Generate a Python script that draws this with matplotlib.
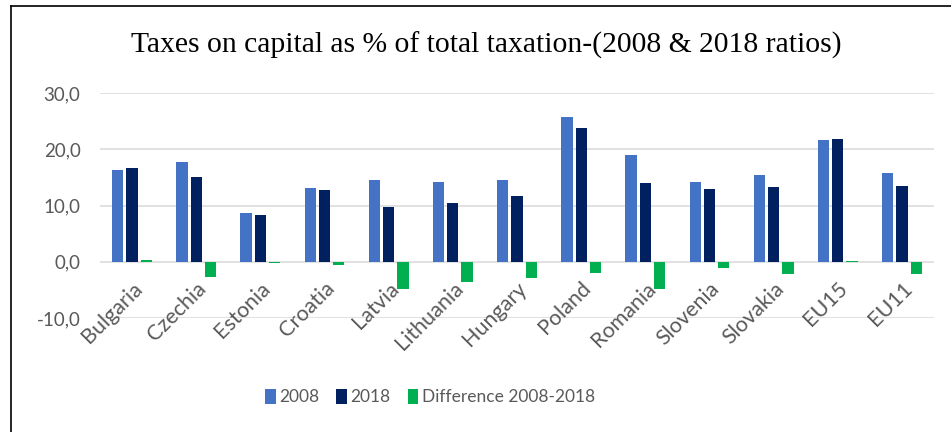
import numpy as np
import matplotlib
matplotlib.use("Agg")
from matplotlib import pyplot as plt
from matplotlib.lines import Line2D

countries = ["Bulgaria", "Czechia", "Estonia", "Croatia", "Latvia", "Lithuania", "Hungary",
             "Poland", "Romania", "Slovenia", "Slovakia", "EU15", "EU11"]
y2008 = [16.3, 17.8, 8.6, 13.2, 14.5, 14.2, 14.6, 25.8, 18.9, 14.1, 15.4, 21.6, 15.7]
y2018 = [16.7, 15.1, 8.4, 12.7, 9.7, 10.5, 11.7, 23.8, 14.0, 13.0, 13.3, 21.9, 13.5]
diff = [0.3, -2.7, -0.2, -0.5, -4.8, -3.6, -2.9, -2.0, -4.9, -1.1, -2.1, 0.2, -2.2]
yticks = [-10, 0, 10, 20, 30]

c2008 = "#4472C4"
c2018 = "#002060"
cdiff = "#00B050"
txt = "#595959"

plt.rcParams['font.family'] = ['Lato', 'DejaVu Sans']

fig = plt.figure(figsize=(9.51, 4.32), dpi=100)
ax = fig.add_axes([100 / 951, 1 - 318 / 432, 834 / 951, 225 / 432])

x = np.arange(len(countries))
w = 0.176
step = 0.222
ax.bar(x - step, y2008, w, color=c2008, label="2008", zorder=3)
ax.bar(x, y2018, w, color=c2018, label="2018", zorder=3)
ax.bar(x + step, diff, w, color=cdiff, label="Difference 2008-2018", zorder=3)

ax.set_xlim(-0.5, len(countries) - 0.5)
ax.set_ylim(-10, 30)
ax.set_yticks(yticks)
ax.set_yticklabels([f"{v:.1f}".replace(".", ",") for v in yticks])
ax.tick_params(axis='y', length=0, pad=14, labelsize=13.5, labelcolor=txt)
ax.set_xticks([])
ax.grid(axis='y', color="#D9D9D9", linewidth=1.1, zorder=0)
for s in ax.spines.values():
    s.set_visible(False)

# category labels sit next to the zero line, as in Excel
for i, name in enumerate(countries):
    ax.annotate(name, xy=(i, 0), xytext=(5, -17), textcoords='offset points',
                rotation=45, rotation_mode='anchor', ha='right', va='center',
                fontsize=15.5, color=txt)

fig.text(0.5 * (134 + 838) / 951, 1 - 45 / 432,
         "Taxes on capital as % of total taxation-(2008 & 2018 ratios)",
         family='Liberation Serif', fontsize=21.3, ha='center', va='center', color='black')

ax.legend(loc='center', bbox_to_anchor=(430 / 951, 1 - 397 / 432),
          bbox_transform=fig.transFigure, ncol=3, frameon=False, fontsize=12.5,
          handlelength=0.6, handleheight=1.0, handletextpad=0.2, columnspacing=1.0,
          labelcolor=txt)

# frame lines on left and top edges
fig.add_artist(Line2D([10.5 / 951, 10.5 / 951], [0, 1 - 5.5 / 432], color='black', lw=1.2))
fig.add_artist(Line2D([10.5 / 951, 1], [1 - 5.5 / 432, 1 - 5.5 / 432], color='black', lw=1.2))

fig.savefig("out.png", dpi=100)
